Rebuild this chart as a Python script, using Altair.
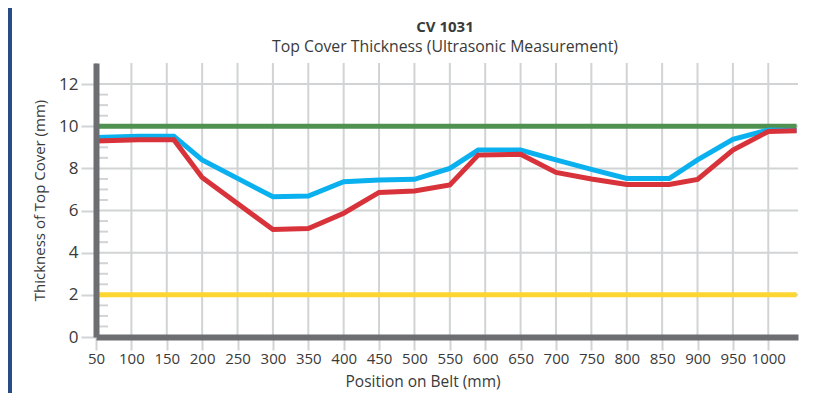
import altair as alt
import pandas as pd

# ---- data ----
position = [50, 110, 160, 200, 300, 350, 400, 450, 500, 550, 590, 650,
            700, 750, 800, 860, 900, 950, 1000, 1040]
series_blue = [9.47, 9.53, 9.53, 8.40, 6.65, 6.69, 7.37, 7.45, 7.48, 8.00,
               8.87, 8.87, 8.40, 7.95, 7.52, 7.52, 8.40, 9.38, 9.82, 9.80]
series_red = [9.30, 9.36, 9.36, 7.57, 5.10, 5.15, 5.87, 6.86, 6.93, 7.21,
              8.63, 8.67, 7.81, 7.50, 7.24, 7.24, 7.48, 8.87, 9.75, 9.78]
limit_x = [50, 1040]
upper_limit = 10
lower_limit = 2
x_ticks = list(range(50, 1001, 50))
y_ticks = [0, 2, 4, 6, 8, 10, 12]
y_minor = [0.5, 1, 1.5, 2.5, 3, 3.5, 4.5, 5, 5.5, 6.5, 7, 7.5,
           8.5, 9, 9.5, 10.5, 11, 11.5]
title_text = ["CV 1031"]
subtitle_text = ["Top Cover Thickness (Ultrasonic Measurement)"]

GRID = "#d1d3d4"
AXIS = "#6d6e71"
TEXT = "#3a3a3a"
FONT = "Open Sans"

lines = pd.DataFrame(
    [{"pos": p, "val": v, "series": "A"} for p, v in zip(position, series_blue)]
    + [{"pos": p, "val": v, "series": "B"} for p, v in zip(position, series_red)]
)
limits = pd.DataFrame(
    [{"pos": p, "val": lower_limit, "series": "low"} for p in limit_x]
    + [{"pos": p, "val": upper_limit, "series": "high"} for p in limit_x]
)

xscale = alt.Scale(domain=[50, 1042], nice=False, zero=False)
yscale = alt.Scale(domain=[0, 13], nice=False)

x_axis = alt.Axis(values=x_ticks, grid=False, domainColor=AXIS, domainWidth=6,
                  tickColor=GRID, tickWidth=2, tickSize=13, labelFontSize=15,
                  labelColor=TEXT, labelFont=FONT, labelPadding=1, format="d",
                  labelOverlap=False, labelFlush=False,
                  title="Position on Belt (mm)", titleFont=FONT, titleFontSize=15.5,
                  titleFontWeight="normal", titleColor=TEXT, titlePadding=8,
                  titleAnchor="start", titleX=249, zindex=1)
y_axis = alt.Axis(values=y_ticks, grid=False, domainColor=AXIS, domainWidth=6,
                  tickColor=GRID, tickWidth=2, tickSize=15, labelFontSize=17,
                  labelColor=TEXT, labelFont=FONT, labelPadding=3, format="d",
                  labelOverlap=False,
                  title="Thickness of Top Cover (mm)", titleFont=FONT,
                  titleFontSize=15, titleFontWeight="normal", titleColor=TEXT,
                  titlePadding=11, zindex=1)

xgrid = alt.Chart(pd.DataFrame({"pos": x_ticks})).mark_rule(
    color=GRID, strokeWidth=2).encode(
    x=alt.X("pos:Q", scale=xscale, axis=x_axis))
ygrid = alt.Chart(pd.DataFrame({"val": y_ticks})).mark_rule(
    color=GRID, strokeWidth=2).encode(
    y=alt.Y("val:Q", scale=yscale, axis=y_axis))
minor = alt.Chart(pd.DataFrame({"val": y_minor})).mark_rule(
    color=GRID, strokeWidth=2).encode(
    y=alt.Y("val:Q", scale=yscale, axis=y_axis), x=alt.value(2), x2=alt.value(12))

limit_lines = alt.Chart(limits).mark_line(strokeWidth=5).encode(
    x=alt.X("pos:Q", scale=xscale, axis=x_axis),
    y=alt.Y("val:Q", scale=yscale, axis=y_axis),
    color=alt.Color("series:N", scale=alt.Scale(domain=["low", "high"],
                                                range=["#fdd631", "#4f9150"]),
                    legend=None),
    detail="series:N",
)
data_lines = alt.Chart(lines).mark_line(strokeWidth=5).encode(
    x=alt.X("pos:Q", scale=xscale, axis=x_axis),
    y=alt.Y("val:Q", scale=yscale, axis=y_axis),
    color=alt.Color("series:N", scale=alt.Scale(domain=["A", "B"],
                                                range=["#0bb1ee", "#d8333a"]),
                    legend=None),
    order=alt.Order("pos:Q"),
)

title_mark = alt.Chart(pd.DataFrame({"t": title_text})).mark_text(
    font=FONT, fontSize=15, fontWeight="bold", color=TEXT, align="center",
    baseline="middle").encode(text="t:N", x=alt.value(349), y=alt.value(-36))
subtitle_mark = alt.Chart(pd.DataFrame({"t": subtitle_text})).mark_text(
    font=FONT, fontSize=15.8, color=TEXT, align="center",
    baseline="middle").encode(text="t:N", x=alt.value(349), y=alt.value(-16))

border = alt.Chart(pd.DataFrame({"v": [0]})).mark_rect(color="#284d84").encode(
    x=alt.value(-88), x2=alt.value(-84), y=alt.value(-55), y2=alt.value(330))

chart = alt.layer(xgrid, ygrid, minor, limit_lines, data_lines,
                  title_mark, subtitle_mark, border).properties(
    width=702, height=274,
    autosize=alt.AutoSizeParams(type="none"),
    padding={"left": 88, "top": 55, "right": 27, "bottom": 56},
    background="white",
).resolve_scale(color="independent").configure_view(
    stroke=None
).configure_axis(labelOverlap=False)

chart.save("out.html", embed_options={"renderer": "svg", "actions": False})
